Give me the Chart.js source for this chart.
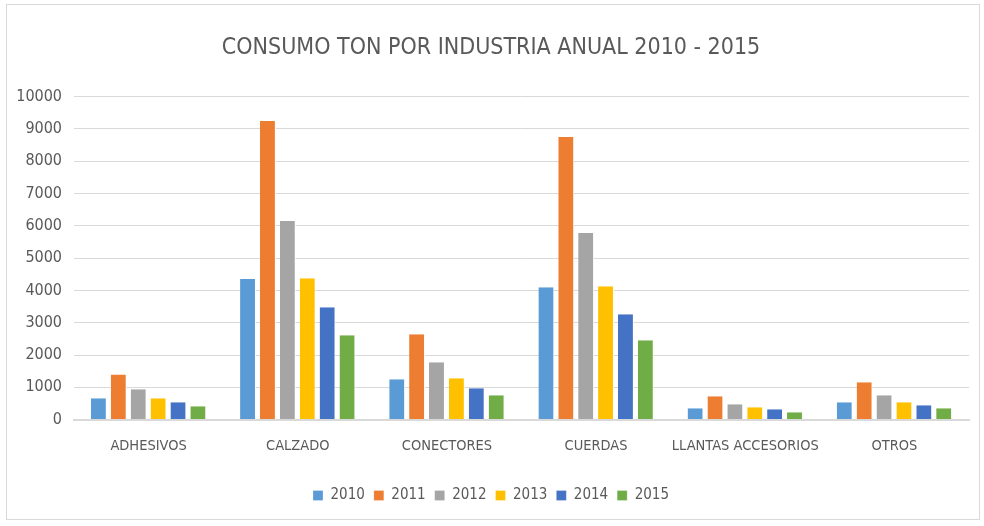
<!DOCTYPE html>
<html>
<head>
<meta charset="utf-8">
<script src="https://cdn.jsdelivr.net/npm/chart.js@4.4.1/dist/chart.umd.min.js"></script>
<style>
  html, body { margin: 0; padding: 0; background: #fff; }
  #wrap { position: absolute; left: 6px; top: 4px; width: 974px; height: 516px; border: 1px solid #d9d9d9; box-sizing: border-box; }
  canvas { display: block; }
</style>
</head>
<body>
<div id="wrap"><canvas id="chart"></canvas></div>
<script>
const categories = ["ADHESIVOS", "CALZADO", "CONECTORES", "CUERDAS", "LLANTAS ACCESORIOS", "OTROS"];
const years = ["2010", "2011", "2012", "2013", "2014", "2015"];
const v2010 = [660, 4350, 1250, 4100, 350, 540];
const v2011 = [1400, 9245, 2645, 8750, 725, 1160];
const v2012 = [940, 6150, 1775, 5775, 475, 755];
const v2013 = [660, 4380, 1280, 4130, 380, 540];
const v2014 = [540, 3480, 970, 3265, 320, 445];
const v2015 = [415, 2615, 755, 2460, 230, 350];
const colors = ["#5B9BD5", "#ED7D31", "#A5A5A5", "#FFC000", "#4472C4", "#70AD47"];

const series = [v2010, v2011, v2012, v2013, v2014, v2015];
const font = "'DejaVu Sans Condensed', 'Liberation Sans Narrow', 'Roboto', sans-serif";

new Chart(document.getElementById("chart"), {
    type: "bar",
    data: {
        labels: categories,
        datasets: series.map((values, i) => ({
            label: years[i],
            data: values,
            backgroundColor: colors[i],
            borderColor: "#ffffff",
            borderWidth: { left: 0, right: 1, top: 0, bottom: 0 },
            categoryPercentage: 0.8,
            barPercentage: 0.8,
        })),
    },
    options: {
        responsive: true,
        maintainAspectRatio: false,
        animation: false,
        layout: { padding: { left: 6, right: 10, top: 10, bottom: 6 } },
        plugins: {
            title: {
                display: true,
                text: "CONSUMO TON POR INDUSTRIA ANUAL 2010 - 2015",
                color: "#595959",
                font: { family: font, size: 23, weight: "normal" },
                padding: { top: 19, bottom: 35 },
            },
            legend: {
                position: "bottom",
                labels: {
                    color: "#595959",
                    font: { family: font, size: 15 },
                    boxWidth: 10,
                    boxHeight: 10,
                    padding: 9,
                },
            },
            tooltip: { enabled: false },
        },
        scales: {
            x: {
                grid: { display: false },
                border: { color: "#d9d9d9", width: 2 },
                afterFit: (scale) => { scale.height += 14; },
                ticks: { color: "#595959", font: { family: font, size: 14.5 }, padding: 10, maxRotation: 0, autoSkip: false },
            },
            y: {
                min: 0,
                max: 10000,
                afterFit: (scale) => { scale.width = 61; },
                ticks: {
                    stepSize: 1000,
                    color: "#595959",
                    font: { family: font, size: 16 },
                    padding: 12,
                    callback: (v) => String(v),
                },
                grid: { color: "#d9d9d9", drawTicks: false },
                border: { display: false },
            },
        },
    },
});
</script>
</body>
</html>
